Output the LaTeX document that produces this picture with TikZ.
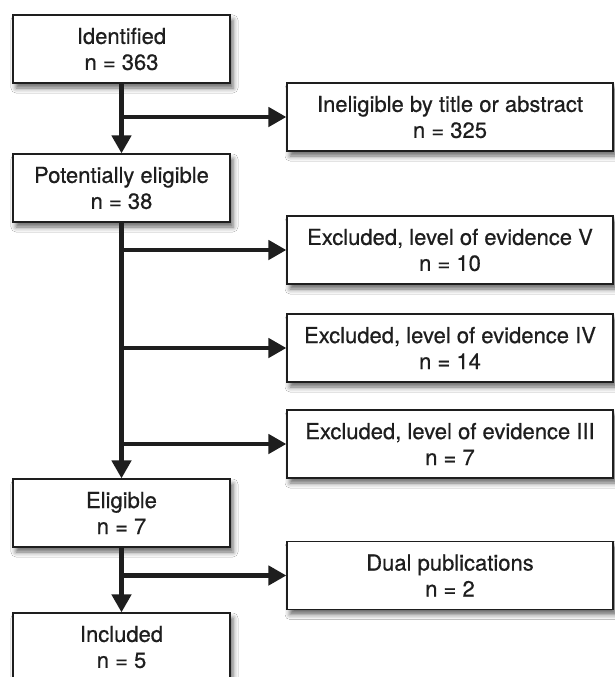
\documentclass[tikz,border=0pt]{standalone}
\usepackage{fontspec}
\setmainfont{TeX Gyre Heros}
\newfontfamily\hv[FakeBold=0.6]{TeX Gyre Heros}
\usetikzlibrary{arrows.meta,shadows.blur}
\definecolor{ink}{HTML}{1E1E1E}
\tikzset{
  box/.style={draw=ink, line width=1.2pt, fill=white, text=ink,
    align=center, inner sep=0pt,
    font=\hv\fontsize{22}{26}\selectfont,
    blur shadow={shadow xshift=3pt, shadow yshift=-5pt, shadow blur radius=5pt, shadow opacity=60}},
  lbox/.style={box, minimum width=217pt, minimum height=68pt},
  rbox/.style={box, minimum width=326pt, minimum height=68pt},
  arr/.style={draw=ink, line width=4.5pt, -{Triangle[length=18pt,width=19pt]}},
  ln/.style={draw=ink, line width=4.5pt}
}
\begin{document}
\begin{tikzpicture}[x=1pt,y=-1pt]
\useasboundingbox (0,0) rectangle (615,677);
\clip (0,0) rectangle (615,677);
\fill[white] (0,0) rectangle (615,677);
% left column
\node[lbox] (id) at (121.5,49) {Identified\\n = 363};
\node[lbox] (pe) at (121.5,188) {Potentially eligible\\n = 38};
\node[lbox] (el) at (121.5,513) {Eligible\\n = 7};
\node[lbox] (inc) at (121.5,647) {Included\\n = 5};
% right column
\node[rbox] (inel) at (450,117) {Ineligible by title or abstract\\n = 325};
\node[rbox] (ev5) at (450,250) {Excluded, level of evidence V\\n = 10};
\node[rbox] (ev4) at (450,348) {Excluded, level of evidence IV\\n = 14};
\node[rbox] (ev3) at (450,444) {Excluded, level of evidence III\\n = 7};
\node[rbox] (dual) at (450,575.5) {Dual publications\\n = 2};
% connectors
\draw[arr] (id.south) -- (pe.north);
\draw[arr] (pe.south) -- (el.north);
\draw[arr] (el.south) -- (inc.north);
\draw[arr] (id.south |- inel.west) -- (inel.west);
\draw[arr] (pe.south |- ev5.west) -- (ev5.west);
\draw[arr] (pe.south |- ev4.west) -- (ev4.west);
\draw[arr] (pe.south |- ev3.west) -- (ev3.west);
\draw[arr] (el.south |- dual.west) -- (dual.west);
\end{tikzpicture}
\end{document}
